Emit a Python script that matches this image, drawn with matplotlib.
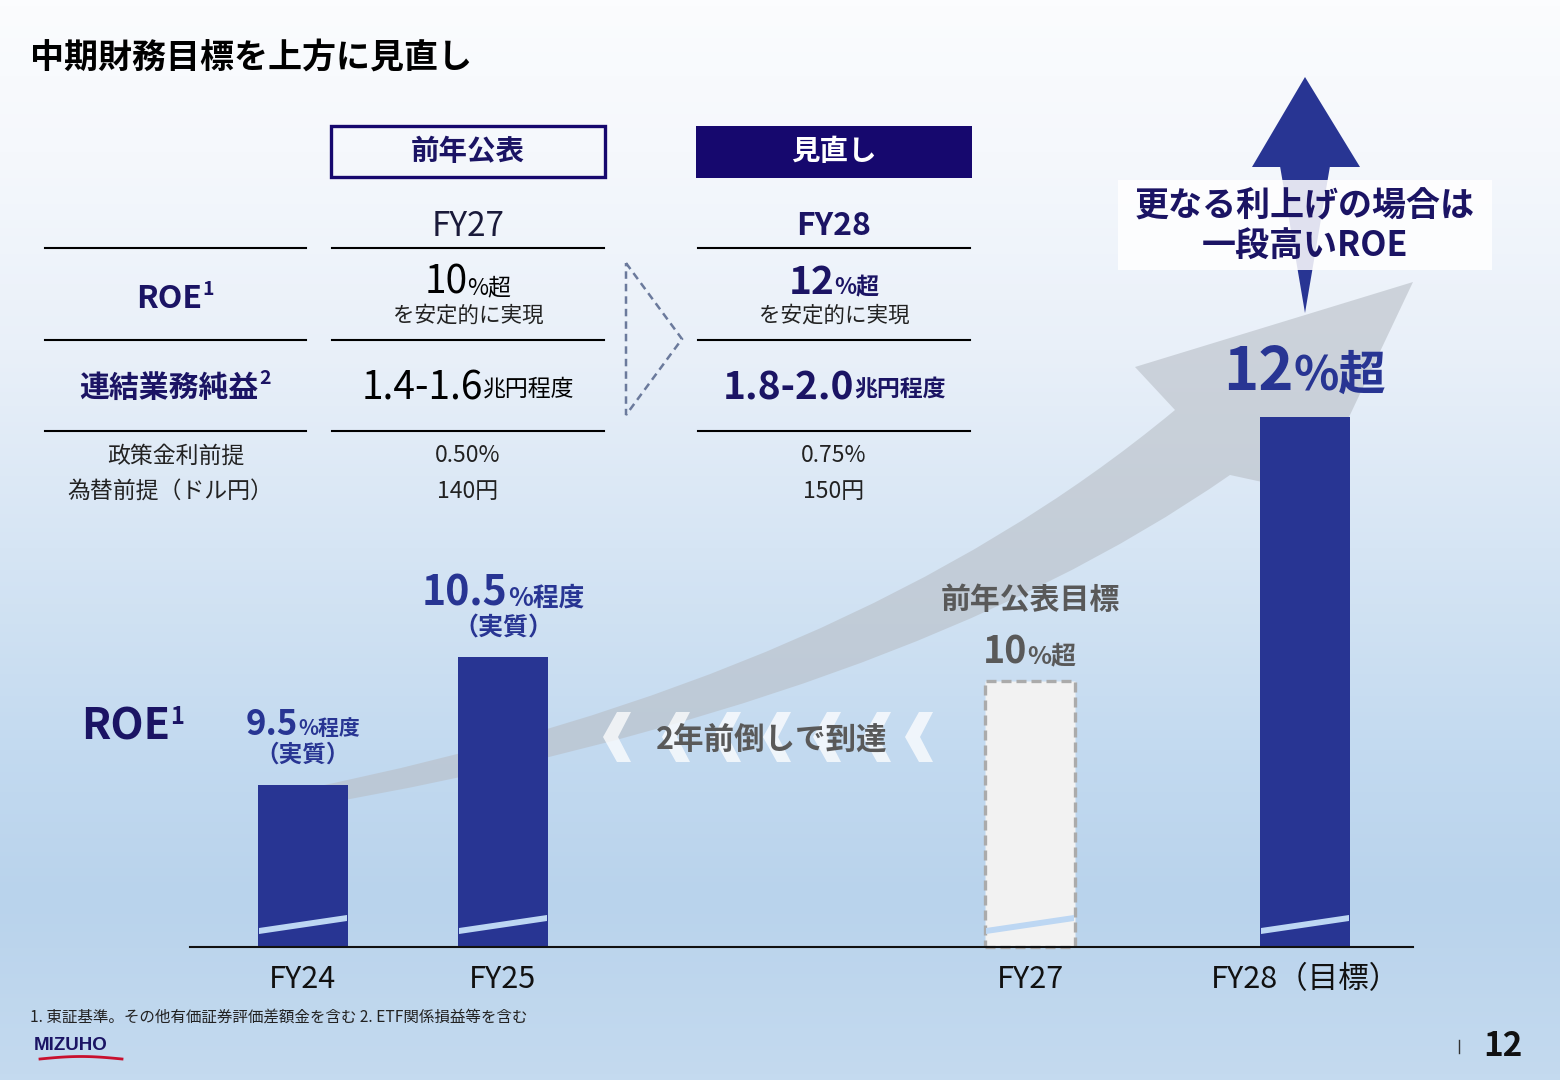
import numpy as np
import matplotlib
matplotlib.use('Agg')
import matplotlib.pyplot as plt
from matplotlib.patches import Rectangle, Polygon, PathPatch
from matplotlib.path import Path
from matplotlib.colors import LinearSegmentedColormap

plt.rcParams['font.family'] = ['Noto Sans CJK JP', 'DejaVu Sans']

# ---- data ----
years = ['FY24', 'FY25', 'FY27', 'FY28（目標）']
roe_main = ['9.5', '10.5', '10', '12']
roe_unit = ['%程度', '%程度', '%超', '%超']
bar_px = [162, 290, 266, 530]   # drawn bar heights (broken axis, px)
x_pos = [303, 503, 1030, 1305]

col_heads = ['前年公表', '見直し']
col_years = ['FY27', 'FY28']
roe_target = ['10', '12']
profit_target = ['1.4-1.6', '1.8-2.0']
rate_assump = ['0.50%', '0.75%']
fx_assump = ['140円', '150円']

W, H = 1560, 1080
NAVY = '#1B1464'
BLUE = '#283593'
GRAY = '#595959'

fig = plt.figure(figsize=(15.6, 10.8), dpi=100)
ax = fig.add_axes([0, 0, 1, 1])
ax.set_xlim(0, W)
ax.set_ylim(0, H)
ax.axis('off')
r = fig.canvas.get_renderer()


def Y(py):
    return H - py


# background gradient
stops = [0, 150, 350, 550, 750, 900, 1080]
cols = ['#FBFCFE', '#F5F8FC', '#E9F0F9', '#D6E5F4', '#C3DAF0', '#B9D3EC', '#C4DAEF']
cmap = LinearSegmentedColormap.from_list('bg', list(zip(np.array(stops) / H, cols)))
grad = np.linspace(0, 1, 540).reshape(-1, 1)
ax.imshow(grad, cmap=cmap, extent=[0, W, 0, H], aspect='auto', origin='upper', zorder=0)


def rich(x, y, parts, ha='center', z=6):
    # parts: (text, size, weight, color, dy)
    arts = []
    for s, size, w, c, dy in parts:
        t = ax.text(0, Y(y) + dy, s, fontsize=size, fontweight=w, color=c,
                    va='baseline', ha='left', zorder=z)
        arts.append(t)
    widths = [t.get_window_extent(r).width for t in arts]
    total = sum(widths)
    x0 = x - total / 2 if ha == 'center' else x
    for t, w in zip(arts, widths):
        t.set_x(x0)
        x0 += w
    return arts


# title
ax.text(30, Y(57), '中期財務目標を上方に見直し', fontsize=24.5, fontweight='bold',
        color='black', va='center', ha='left')

# ---- table ----
ax.add_patch(Rectangle((331, Y(177)), 274, 51, fill=False, ec='#16086E', lw=2.4, zorder=3))
ax.add_patch(Rectangle((696, Y(178)), 276, 52, fc='#16086E', ec='none', zorder=3))
ax.text(468, Y(152), col_heads[0], fontsize=20.5, fontweight='bold', color=NAVY,
        ha='center', va='center')
ax.text(834, Y(152), col_heads[1], fontsize=20.5, fontweight='bold', color='white',
        ha='center', va='center')
ax.text(468, Y(226), col_years[0], fontsize=24, color='#1a1a3a', ha='center', va='center')
ax.text(834, Y(226), col_years[1], fontsize=23, fontweight='bold', color=NAVY,
        ha='center', va='center')

for ly in [248, 340, 431]:
    for xa, xb in [(45, 306), (332, 604), (698, 970)]:
        ax.plot([xa, xb], [Y(ly), Y(ly)], color='black', lw=1.5, zorder=3)

rich(175, 308, [('ROE', 23, 'bold', NAVY, 0), ('1', 14, 'bold', NAVY, 13)])
rich(175, 397, [('連結業務純益', 21.5, 'bold', NAVY, 0), ('2', 14, 'bold', NAVY, 13)])
ax.text(176, Y(456), '政策金利前提', fontsize=16.5, color='#222222', ha='center', va='center')
ax.text(170, Y(491), '為替前提（ドル円）', fontsize=16.5, color='#222222', ha='center', va='center')

rich(468, 294, [(roe_target[0], 28, 'normal', 'black', 0), ('%超', 16.5, 'normal', 'black', 0)])
rich(834, 294, [(roe_target[1], 28, 'bold', NAVY, 0), ('%超', 16.5, 'bold', NAVY, 0)])
for cx in [468, 834]:
    ax.text(cx, Y(316), 'を安定的に実現', fontsize=15.5, color='#222222', ha='center', va='center')
rich(468, 400, [(profit_target[0], 28, 'normal', 'black', 0), ('兆円程度', 16.5, 'normal', 'black', 4)])
rich(834, 400, [(profit_target[1], 28, 'bold', NAVY, 0), ('兆円程度', 16.5, 'bold', NAVY, 4)])
for cx, a, b in [(468, rate_assump[0], fx_assump[0]), (834, rate_assump[1], fx_assump[1])]:
    ax.text(cx, Y(456), a, fontsize=16.5, color='#222222', ha='center', va='center')
    ax.text(cx, Y(491), b, fontsize=16.5, color='#222222', ha='center', va='center')

ax.add_patch(Polygon([(626, Y(263)), (682, Y(339)), (626, Y(415))], closed=True, fill=False,
                     ec='#6B7A9C', lw=1.8, ls=(0, (3, 2)), zorder=3))

# ---- grey growth arrow ----
verts = [(300, 808), (900, 705), (1230, 475), (1313, 493), (1413, 282), (1135, 367),
         (1175, 410), (850, 680), (300, 790), (300, 808)]
codes = [Path.MOVETO, Path.CURVE3, Path.CURVE3, Path.LINETO, Path.LINETO, Path.LINETO,
         Path.LINETO, Path.CURVE3, Path.CURVE3, Path.CLOSEPOLY]
path = Path([(vx, Y(vy)) for vx, vy in verts], codes)
ax.add_patch(PathPatch(path, fc=(0.72, 0.745, 0.775), ec='none', alpha=0.6, zorder=2))

# ---- blue up arrow + box ----
ax.add_patch(Polygon([(1305, Y(77)), (1252, Y(167)), (1360, Y(167))], fc=BLUE, ec='none', zorder=3))
ax.add_patch(Polygon([(1280, Y(166)), (1330, Y(166)), (1305, Y(313))], fc=BLUE, ec='none', zorder=3))
ax.add_patch(Rectangle((1118, Y(270)), 374, 90, fc='white', ec='none', alpha=0.86, zorder=4))
ax.text(1305, Y(205), '更なる利上げの場合は', fontsize=24.5, fontweight='bold', color=NAVY,
        ha='center', va='center', zorder=5)
ax.text(1305, Y(246), '一段高いROE', fontsize=24.5, fontweight='bold', color=NAVY,
        ha='center', va='center', zorder=5)

# ---- bars ----
base = Y(947)
bw = 90
colors = [BLUE, BLUE, '#F2F2F2', BLUE]
bars = ax.bar(x_pos, bar_px, width=bw, bottom=base, color=colors, zorder=4)
bars[2].set_edgecolor('#ABABAB')
bars[2].set_linewidth(2.4)
bars[2].set_linestyle((0, (3, 1.5)))

for xc in x_pos:
    x0, x1 = xc - bw / 2 + 1, xc + bw / 2 - 1
    ax.add_patch(Polygon([(x0, Y(928)), (x1, Y(915)), (x1, Y(921)), (x0, Y(934))],
                         fc='#BDD7F3', ec='none', zorder=5))

ax.plot([190, 1413], [base, base], color='#111111', lw=1.5, zorder=5)
for xc, lab in zip(x_pos, years):
    ax.text(xc, Y(980), lab, fontsize=22, color='#111111', ha='center', va='center')

# bar labels
rich(133, 740, [('ROE', 31, 'bold', NAVY, 0), ('1', 17, 'bold', NAVY, 16)])
rich(x_pos[0], 735, [(roe_main[0], 25, 'bold', BLUE, 0), (roe_unit[0], 15, 'bold', BLUE, 0)])
ax.text(x_pos[0], Y(755), '（実質）', fontsize=17, fontweight='bold', color=BLUE, ha='center', va='center')
rich(x_pos[1], 606, [(roe_main[1], 29.5, 'bold', BLUE, 0), (roe_unit[1], 18.5, 'bold', BLUE, 0)])
ax.text(x_pos[1], Y(628), '（実質）', fontsize=18, fontweight='bold', color=BLUE, ha='center', va='center')
ax.text(x_pos[2], Y(600), '前年公表目標', fontsize=21.5, fontweight='bold', color=GRAY, ha='center', va='center')
rich(x_pos[2], 663, [(roe_main[2], 27, 'bold', GRAY, 0), (roe_unit[2], 18, 'bold', GRAY, 0)])
rich(x_pos[3], 390, [(roe_main[3], 43, 'bold', BLUE, 0), (roe_unit[3], 34, 'bold', BLUE, 0)])

# chevrons + text
for cl in [603, 662, 713, 763, 813, 863, 905]:
    ax.add_patch(Polygon([(cl, Y(737)), (cl + 14, Y(712)), (cl + 28, Y(712)), (cl + 15, Y(737)),
                          (cl + 28, Y(762)), (cl + 14, Y(762))], fc='white', ec='none',
                         alpha=0.75, zorder=3))
ax.text(772, Y(740), '2年前倒しで到達', fontsize=22, fontweight='bold', color=GRAY,
        ha='center', va='center', zorder=6)

# ---- footer ----
ax.text(30, Y(1017), '1. 東証基準。その他有価証券評価差額金を含む 2. ETF関係損益等を含む',
        fontsize=11.2, color='#222222', ha='left', va='center')
ax.text(34, Y(1045), 'MIZUHO', fontsize=13.5, fontweight='bold', color='#1B1464',
        family='Liberation Sans', ha='left', va='center')
sw = np.linspace(40, 122, 50)
ax.plot(sw, Y(1059) + 2.5 * np.sin((sw - 40) / 82 * np.pi), color='#C8102E', lw=2, zorder=5)
ax.plot([1459, 1459], [Y(1040), Y(1053)], color='#333333', lw=1)
ax.text(1503, Y(1046), '12', fontsize=24, fontweight='bold', color='#111111',
        ha='center', va='center')

fig.savefig('out.png', dpi=100)
